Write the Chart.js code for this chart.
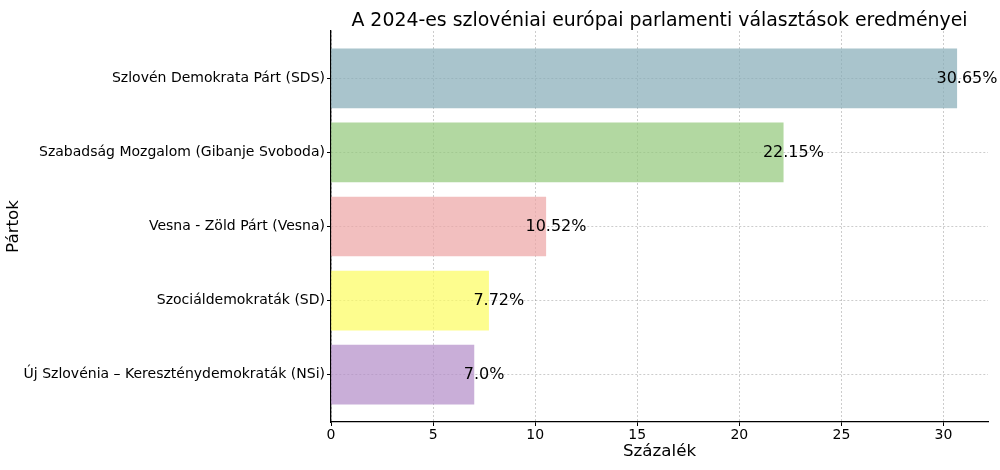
<!DOCTYPE html>
<html>
<head>
<meta charset="utf-8">
<script src="https://cdn.jsdelivr.net/npm/chart.js@4"></script>
<style>
  body { margin: 0; background: #fff; }
</style>
</head>
<body>
<canvas id="grafico" width="1000" height="470"></canvas>
<script>
// Dados do gráfico
const partok = [
    'Szlovén Demokrata Párt (SDS)',
    'Szabadság Mozgalom (Gibanje Svoboda)',
    'Vesna - Zöld Párt (Vesna)',
    'Szociáldemokraták (SD)',
    'Új Szlovénia – Kereszténydemokraták (NSi)'
];
const szazalek = [30.65, 22.15, 10.52, 7.72, 7.0];
const xTicks = [0, 5, 10, 15, 20, 25, 30];
const cim = 'A 2024-es szlovéniai európai parlamenti választások eredményei';

const cores = [
    'rgba(132, 171, 182, 0.7)',
    'rgba(145, 199, 121, 0.7)',
    'rgba(236, 164, 164, 0.7)',
    'rgba(252, 252, 94, 0.7)',
    'rgba(178, 139, 199, 0.7)'
];

const fonte = 'DejaVu Sans';

function formatar(v) {
    return (Number.isInteger(v) ? v.toFixed(1) : String(v)) + '%';
}

// Plugin para o título e os rótulos das barras
const extras = {
    id: 'extras',
    afterDatasetsDraw(chart) {
        const ctx = chart.ctx;
        const xs = chart.scales.x;
        const ys = chart.scales.y;
        ctx.save();
        ctx.fillStyle = '#000';
        ctx.font = '16px "' + fonte + '"';
        ctx.textAlign = 'center';
        ctx.textBaseline = 'middle';
        szazalek.forEach((v, i) => {
            ctx.fillText(formatar(v), xs.getPixelForValue(v + 0.5), ys.getPixelForValue(i));
        });
        ctx.font = '18.9px "' + fonte + '"';
        ctx.textBaseline = 'alphabetic';
        const area = chart.chartArea;
        ctx.fillText(cim, (area.left + area.right) / 2, 26);
        ctx.restore();
    }
};

// Configuração comum das grades
const grade = {
    color: 'rgba(0,0,0,0.2)',
    offset: false,
    tickColor: '#000',
    tickLength: 4,
    tickBorderDash: []
};
const borda = { color: '#000', width: 1.3, dash: [2, 2] };

new Chart(document.getElementById('grafico').getContext('2d'), {
    type: 'bar',
    data: {
        datasets: [{
            data: szazalek.map((v, i) => ({ x: v, y: i })),
            backgroundColor: cores,
            borderWidth: 0,
            barThickness: 59
        }]
    },
    options: {
        indexAxis: 'y',
        responsive: false,
        animation: false,
        layout: { padding: { top: 31, right: 12, bottom: 0, left: 0 } },
        plugins: {
            legend: { display: false },
            tooltip: { enabled: false }
        },
        scales: {
            x: {
                type: 'linear',
                min: 0,
                max: 32.18,
                offset: false,
                afterBuildTicks: scale => { scale.ticks = xTicks.map(v => ({ value: v })); },
                afterFit: scale => { scale.height = 48; },
                border: borda,
                grid: grade,
                ticks: { color: '#000', padding: 1, font: { family: fonte, size: 14 } },
                title: {
                    display: true,
                    text: 'Százalék',
                    color: '#000',
                    padding: { top: 0, bottom: 8 },
                    font: { family: fonte, size: 16.7 }
                }
            },
            y: {
                type: 'linear',
                reverse: true,
                min: -0.64,
                max: 4.64,
                offset: false,
                afterBuildTicks: scale => { scale.ticks = partok.map((p, i) => ({ value: i })); },
                afterFit: scale => { scale.width = 331; },
                border: borda,
                grid: grade,
                ticks: {
                    color: '#000',
                    padding: 2,
                    font: { family: fonte, size: 14 },
                    callback: v => partok[v]
                },
                title: {
                    display: true,
                    text: 'Pártok',
                    color: '#000',
                    padding: { top: 4, bottom: 4 },
                    font: { family: fonte, size: 16.7 }
                }
            }
        }
    },
    plugins: [extras]
});
</script>
</body>
</html>
